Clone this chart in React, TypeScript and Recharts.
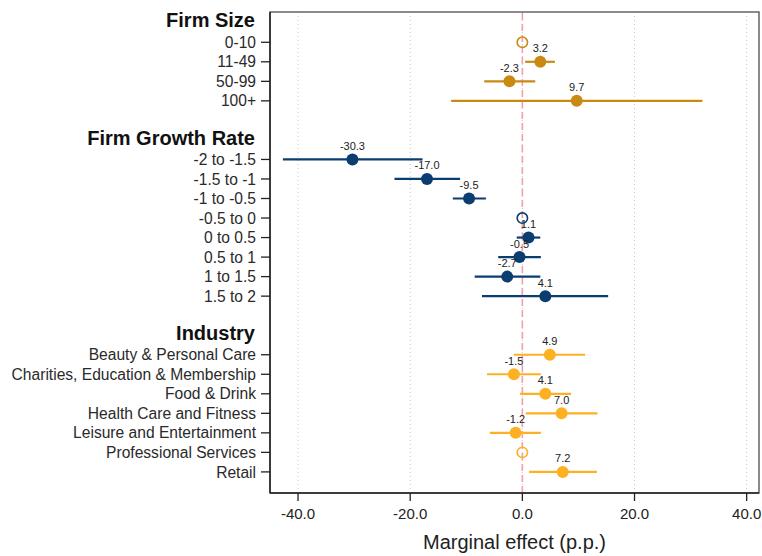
import React from 'react';
import {
  ScatterChart,
  Scatter,
  XAxis,
  YAxis,
  CartesianGrid,
  ReferenceLine,
  ReferenceArea,
  ErrorBar,
} from 'recharts';

const FONT = '"Liberation Sans", Arial, Helvetica, sans-serif';

// ─── Data ───────────────────────────────────────────────────────────────────

const sectionTitles = ['Firm Size', 'Firm Growth Rate', 'Industry'];

const sizeLabels = ['0-10', '11-49', '50-99', '100+'];
const sizeEst = [0, 3.2, -2.3, 9.7];
const sizeLow = [0, 0.5, -6.8, -12.7];
const sizeHigh = [0, 5.8, 2.3, 32.1];
const sizeBase = 0;

const growthLabels = ['-2 to -1.5', '-1.5 to -1', '-1 to -0.5', '-0.5 to 0', '0 to 0.5', '0.5 to 1', '1 to 1.5', '1.5 to 2'];
const growthEst = [-30.3, -17.0, -9.5, 0, 1.1, -0.5, -2.7, 4.1];
const growthLow = [-42.7, -22.8, -12.4, 0, -1.0, -4.3, -8.5, -7.2];
const growthHigh = [-17.8, -11.1, -6.5, 0, 3.2, 3.3, 3.2, 15.3];
const growthBase = 3;

const industryLabels = [
  'Beauty & Personal Care',
  'Charities, Education & Membership',
  'Food & Drink',
  'Health Care and Fitness',
  'Leisure and Entertainment',
  'Professional Services',
  'Retail',
];
const industryEst = [4.9, -1.5, 4.1, 7.0, -1.2, 0, 7.2];
const industryLow = [-1.5, -6.3, -0.4, 0.6, -5.8, 0, 1.2];
const industryHigh = [11.2, 3.3, 8.7, 13.4, 3.3, 0, 13.3];
const industryBase = 5;

const xTicks = [-40, -20, 0, 20, 40];

// ─── Layout helpers ─────────────────────────────────────────────────────────

const SIZE_COLOR = '#c98a14';
const GROWTH_COLOR = '#0a3d70';
const INDUSTRY_COLOR = '#fdb022';

// row index -> label (titles are bold, no tick mark)
const rowLabels: Record<number, { text: string; title: boolean }> = {};

function buildSection(
  title: string,
  start: number,
  labels: string[],
  est: number[],
  low: number[],
  high: number[],
  base: number,
) {
  rowLabels[start] = { text: title, title: true };
  const points: any[] = [];
  const refs: any[] = [];
  labels.forEach((lab, i) => {
    const row = start + 1 + i;
    rowLabels[row] = { text: lab, title: false };
    if (i === base) {
      refs.push({ est: est[i], row });
    } else {
      points.push({ est: est[i], row, err: [est[i] - low[i], high[i] - est[i]] });
    }
  });
  return { points, refs };
}

const size = buildSection(sectionTitles[0], 0, sizeLabels, sizeEst, sizeLow, sizeHigh, sizeBase);
const growth = buildSection(sectionTitles[1], 6, growthLabels, growthEst, growthLow, growthHigh, growthBase);
const industry = buildSection(sectionTitles[2], 16, industryLabels, industryEst, industryLow, industryHigh, industryBase);

const yTicks = Object.keys(rowLabels).map(Number);

// ─── Custom renderers ───────────────────────────────────────────────────────

const YTick = ({ x, y, payload }: any) => {
  const item = rowLabels[payload.value];
  if (!item) return null;
  if (item.title) {
    return (
      <text x={x - 15} y={y - 2.5} dy="0.36em" textAnchor="end" fontFamily={FONT} fontSize={20} fontWeight="bold" fill="#111">
        {item.text}
      </text>
    );
  }
  return (
    <g>
      <line x1={x - 9} x2={x} y1={y} y2={y} stroke="#222" strokeWidth={1.3} />
      <text x={x - 14} y={y} dy="0.36em" textAnchor="end" fontFamily={FONT} fontSize={15.6} fill="#2a2a2a">
        {item.text}
      </text>
    </g>
  );
};

const makeDot = (color: string) => (props: any) => {
  const { cx, cy, payload } = props;
  return (
    <g>
      <circle cx={cx} cy={cy} r={6} fill={color} />
      <text x={cx} y={cy - 9.5} textAnchor="middle" fontFamily={FONT} fontSize={11} fill="#222">
        {payload.est.toFixed(1)}
      </text>
    </g>
  );
};

const makeRef = (color: string) => (props: any) => {
  const { cx, cy } = props;
  return <circle cx={cx} cy={cy} r={5.2} fill="none" stroke={color} strokeWidth={1.6} />;
};

// ─── Chart ──────────────────────────────────────────────────────────────────

export default function App() {
  const groups = [
    { d: size, color: SIZE_COLOR },
    { d: growth, color: GROWTH_COLOR },
    { d: industry, color: INDUSTRY_COLOR },
  ];
  return (
    <div style={{ position: 'absolute', left: 0, top: 0, background: '#fff' }}>
      <ScatterChart width={762} height={556} margin={{ top: 12, right: 3, bottom: 0, left: 0 }}>
        <CartesianGrid horizontal={false} stroke="#c8c8c8" strokeDasharray="1 3" />
        <ReferenceArea x1={-45} x2={42.2} y1={-0.55} y2={24.08} fill="none" stroke="#666" strokeWidth={1.5} ifOverflow="visible" />
        <XAxis
          type="number"
          dataKey="est"
          domain={[-45, 42.2]}
          allowDataOverflow
          ticks={xTicks}
          interval={0}
          tickFormatter={(v) => Number(v).toFixed(1)}
          tick={{ fontSize: 15, fill: '#222', fontFamily: FONT }}
          tickSize={8}
          tickMargin={7}
          height={63}
          axisLine={{ stroke: '#222', strokeWidth: 1.5 }}
          tickLine={{ stroke: '#222', strokeWidth: 1.3 }}
          label={{ value: 'Marginal effect (p.p.)', position: 'insideBottom', offset: 7, style: { fontSize: 20, fill: '#222', fontFamily: FONT } }}
        />
        <YAxis
          type="number"
          dataKey="row"
          domain={[-0.55, 24.08]}
          allowDataOverflow
          reversed
          ticks={yTicks}
          interval={0}
          width={270}
          tickSize={0}
          tickMargin={0}
          tickLine={false}
          tick={<YTick />}
          axisLine={{ stroke: '#222', strokeWidth: 1.5 }}
        />
        <ReferenceLine x={0} stroke="#f4a0a8" strokeWidth={1.6} strokeDasharray="7 4" />
        {groups.map((g, i) => (
          <Scatter key={`p${i}`} data={g.d.points} shape={makeDot(g.color)} isAnimationActive={false}>
            <ErrorBar dataKey="err" direction="x" width={0} stroke={g.color} strokeWidth={2.2} />
          </Scatter>
        ))}
        {groups.map((g, i) => (
          <Scatter key={`r${i}`} data={g.d.refs} shape={makeRef(g.color)} isAnimationActive={false} />
        ))}
      </ScatterChart>
    </div>
  );
}
